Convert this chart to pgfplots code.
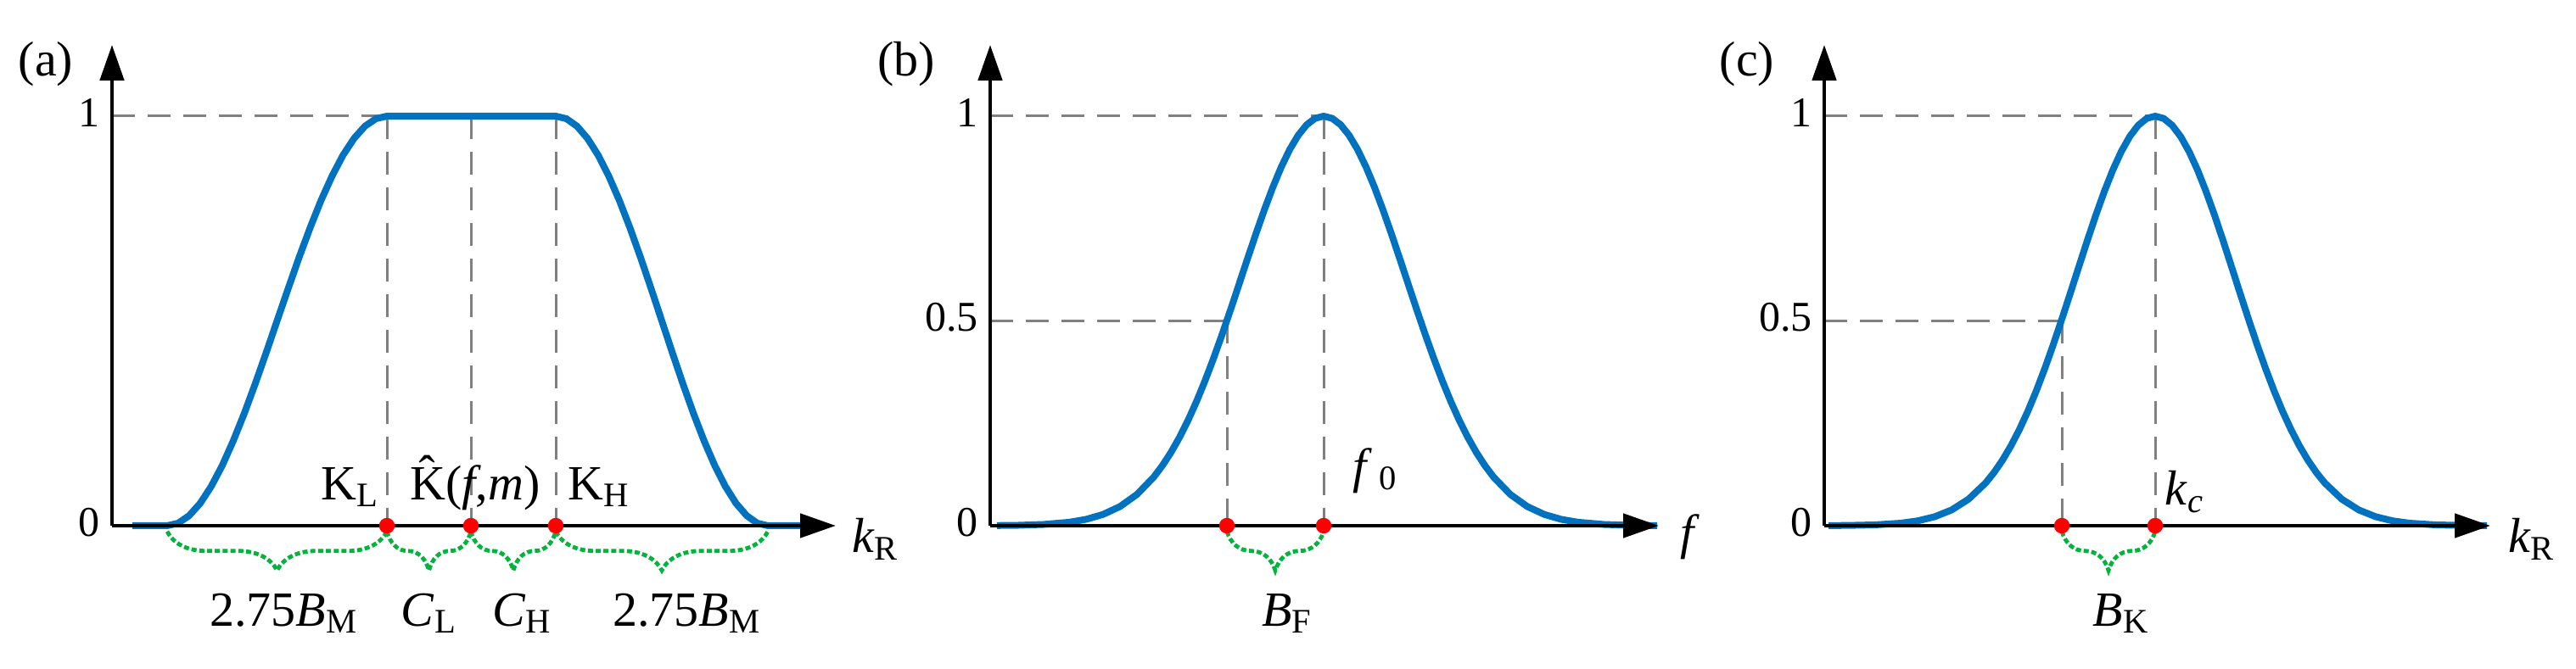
\documentclass[border=0pt]{standalone}
\usepackage{fontspec}
\setmainfont{Liberation Serif}
\usepackage{pgfplots}
\pgfplotsset{compat=1.18}
\usetikzlibrary{arrows.meta,decorations.pathreplacing}
\definecolor{cblue}{RGB}{0,114,192}
\definecolor{cgray}{RGB}{128,128,128}
\definecolor{cgreen}{RGB}{0,180,60}
\definecolor{cred}{RGB}{255,0,0}
\newcommand{\lf}{\fontsize{14.5}{14.5}\selectfont}
\pgfplotsset{
  panel/.style={
    set layers=standard,
    scale only axis, x=25pt, y=120.75pt,
    xmin=0, ymin=0, ymax=1.174,
    axis lines=left, enlargelimits=false, clip=false,
    axis line style={line width=1.2pt, black, -{Triangle[length=10.5pt,width=7pt]}},
    xtick=\empty, major tick length=0pt,
    /pgf/number format/assume math mode=true,
    yticklabel style={font=\fontsize{12.5}{12.5}\selectfont, yshift=1pt},
  },
  curve/.style={line width=2pt, cblue, no markers, on layer=axis grid},
  guide/.style={line width=0.75pt, cgray, dash pattern=on 6.7pt off 3.8pt, no markers, on layer=axis background},
  dot/.style={only marks, mark=*, mark size=2.1pt, color=cred, mark options={draw=cred, fill=cred}},
}
\tikzset{
  brc/.style={decorate, decoration={brace, mirror, amplitude=11.5pt}, cgreen, line width=1.2pt, dash pattern=on 1.5pt off 0.8pt},
  lab/.style={font=\lf, anchor=base, inner sep=0pt},
}
\begin{document}
\begin{tikzpicture}

% ---------------- (a) ----------------
\begin{axis}[panel, at={(33pt,42.25pt)}, anchor=origin, xmax=8.53, ytick={0,1}]
\addplot[guide] coordinates {(0,1) (3.24,1)};
\addplot[guide] coordinates {(3.24,1) (3.24,0)};
\addplot[guide] coordinates {(4.23,1) (4.23,0)};
\addplot[guide] coordinates {(5.23,1) (5.23,0)};
\addplot[curve] coordinates {
(0.24,0) (0.65,0) (0.780,0.0062) (0.909,0.0245) (1.039,0.0545) (1.168,0.0955)
(1.298,0.1464) (1.427,0.2061) (1.557,0.2730) (1.686,0.3455) (1.816,0.4218)
(1.945,0.5) (2.075,0.5782) (2.204,0.6545) (2.334,0.7270) (2.463,0.7939)
(2.593,0.8536) (2.722,0.9045) (2.852,0.9455) (2.981,0.9755) (3.111,0.9938) (3.24,1)
(5.23,1) (5.355,0.9938) (5.48,0.9755) (5.605,0.9455) (5.73,0.9045) (5.855,0.8536)
(5.98,0.7939) (6.105,0.7270) (6.23,0.6545) (6.355,0.5782) (6.48,0.5)
(6.605,0.4218) (6.73,0.3455) (6.855,0.2730) (6.98,0.2061) (7.105,0.1464)
(7.23,0.0955) (7.355,0.0545) (7.48,0.0245) (7.605,0.0062) (7.73,0) (8.18,0)};
\addplot[dot] coordinates {(3.24,0) (4.23,0) (5.23,0)};
\draw[brc] (0.65,-0.014) -- (3.24,-0.014);
\draw[brc] (3.24,-0.014) -- (4.23,-0.014);
\draw[brc] (4.23,-0.014) -- (5.23,-0.014);
\draw[brc] (5.23,-0.014) -- (7.73,-0.014);
\node[lab] at (2.81,0.064) {K\textsubscript{L}};
\node[lab] at (4.28,0.064) {\^{K}(\textit{f},\textit{m})};
\node[lab] at (5.74,0.064) {K\textsubscript{H}};
\node[lab] at (2.03,-0.245) {2.75\textit{B}\textsubscript{M}};
\node[lab] at (3.74,-0.245) {\textit{C}\textsubscript{L}};
\node[lab] at (4.84,-0.245) {\textit{C}\textsubscript{H}};
\node[lab] at (6.78,-0.245) {2.75\textit{B}\textsubscript{M}};
\node[lab] at (9.00,-0.066) {\textit{k}\textsubscript{R}};
\node[font=\lf] at (-0.78,1.128) {(a)};
\end{axis}

% ---------------- (b) ----------------
\begin{axis}[panel, at={(291.75pt,42.25pt)}, anchor=origin, xmax=7.88, ytick={0,0.5,1}]
\addplot[guide] coordinates {(0,1) (3.93,1)};
\addplot[guide] coordinates {(0,0.5) (2.79,0.5)};
\addplot[guide] coordinates {(2.79,0.5) (2.79,0)};
\addplot[guide] coordinates {(3.93,1) (3.93,0)};
\addplot[curve] coordinates {
(0.08,0.0004) (0.33,0.0010) (0.63,0.0031) (0.93,0.0084) (1.13,0.0155) (1.33,0.0275)
(1.53,0.0468) (1.73,0.0764) (1.93,0.1193) (2.03,0.1469) (2.13,0.1788) (2.23,0.2153)
(2.33,0.2565) (2.43,0.3025) (2.53,0.3529) (2.63,0.4073) (2.73,0.4652) (2.83,0.5257)
(2.93,0.5878) (3.03,0.6502) (3.13,0.7117) (3.23,0.7707) (3.33,0.8259) (3.43,0.8756)
(3.53,0.9185) (3.63,0.9533) (3.73,0.9790) (3.83,0.9947) (3.93,1)
(4.03,0.9947) (4.13,0.9790) (4.23,0.9533) (4.33,0.9185) (4.43,0.8756) (4.53,0.8259)
(4.63,0.7707) (4.73,0.7117) (4.83,0.6502) (4.93,0.5878) (5.03,0.5257) (5.13,0.4652)
(5.23,0.4073) (5.33,0.3529) (5.43,0.3025) (5.53,0.2565) (5.63,0.2153) (5.73,0.1788)
(5.83,0.1469) (5.93,0.1193) (6.13,0.0764) (6.33,0.0468) (6.53,0.0275) (6.73,0.0155)
(6.93,0.0084) (7.23,0.0031) (7.53,0.0010) (7.86,0.0003)};
\addplot[dot] coordinates {(2.79,0) (3.93,0)};
\draw[brc] (2.79,-0.014) -- (3.93,-0.014);
\node[lab] at (4.54,0.105) {\textit{f}\hspace{2pt}\textsubscript{0}};
\node[lab] at (3.50,-0.245) {\textit{B}\textsubscript{F}};
\node[lab] at (8.25,-0.056) {\textit{f}};
\node[font=\lf] at (-0.99,1.128) {(b)};
\end{axis}

% ---------------- (c) ----------------
\begin{axis}[panel, at={(537.5pt,42.25pt)}, anchor=origin, xmax=7.85, ytick={0,0.5,1}]
\addplot[guide] coordinates {(0,1) (3.90,1)};
\addplot[guide] coordinates {(0,0.5) (2.80,0.5)};
\addplot[guide] coordinates {(2.80,0.5) (2.80,0)};
\addplot[guide] coordinates {(3.90,1) (3.90,0)};
\addplot[curve] coordinates {
(0.05,0.0002) (0.30,0.0007) (0.60,0.0021) (0.90,0.0061) (1.10,0.0118) (1.30,0.0218)
(1.50,0.0384) (1.70,0.0647) (1.90,0.1040) (2.00,0.1297) (2.10,0.1599) (2.20,0.1949)
(2.30,0.2349) (2.40,0.2799) (2.50,0.3298) (2.60,0.3843) (2.70,0.4427) (2.80,0.5043)
(2.90,0.5678) (3.00,0.6323) (3.10,0.6962) (3.20,0.7579) (3.30,0.8157) (3.40,0.8681)
(3.50,0.9134) (3.60,0.9503) (3.70,0.9776) (3.80,0.9944) (3.90,1)
(4.00,0.9944) (4.10,0.9776) (4.20,0.9503) (4.30,0.9134) (4.40,0.8681) (4.50,0.8157)
(4.60,0.7579) (4.70,0.6962) (4.80,0.6323) (4.90,0.5678) (5.00,0.5043) (5.10,0.4427)
(5.20,0.3843) (5.30,0.3298) (5.40,0.2799) (5.50,0.2349) (5.60,0.1949) (5.70,0.1599)
(5.80,0.1297) (5.90,0.1040) (6.10,0.0647) (6.30,0.0384) (6.50,0.0218) (6.70,0.0118)
(6.90,0.0061) (7.20,0.0021) (7.50,0.0007) (7.81,0.0002)};
\addplot[dot] coordinates {(2.80,0) (3.90,0)};
\draw[brc] (2.80,-0.014) -- (3.90,-0.014);
\node[lab] at (4.25,0.05) {\textit{k}\textsubscript{\textit{c}}};
\node[lab] at (3.50,-0.245) {\textit{B}\textsubscript{K}};
\node[lab] at (8.34,-0.066) {\textit{k}\textsubscript{R}};
\node[font=\lf] at (-0.91,1.128) {(c)};
\end{axis}

\pgfresetboundingbox
\path[use as bounding box] (0,0) rectangle (759pt,197.25pt);
\end{tikzpicture}
\end{document}
